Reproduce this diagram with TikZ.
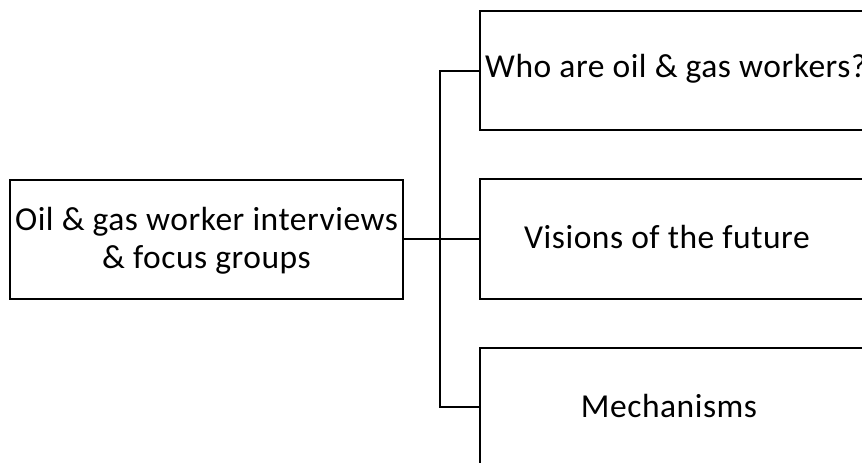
\documentclass[tikz,border=0pt]{standalone}
\usepackage{fontspec}
\setmainfont[LetterSpace=1.6]{Carlito}
\begin{document}
\begin{tikzpicture}[x=1pt,y=-1pt,
  box/.style={draw, line width=2pt, inner sep=0pt, anchor=north west},
  lbl/.style={inner sep=0pt, align=center, font=\fontsize{33.5}{38}\selectfont},
  link/.style={line width=2pt}]
\useasboundingbox (0,0) rectangle (862,463);
\clip (0,0) rectangle (862,463);

% source box
\node[box, minimum width=393pt, minimum height=119pt] (src) at (9,179) {};
\node[lbl] (srct) at ([yshift=-1pt]src.center) {Oil \& gas worker interviews\\\& focus groups};

% theme boxes (running off the right edge)
\node[box, minimum width=420pt, minimum height=119pt] (who) at (479,10) {};
\node[box, minimum width=420pt, minimum height=120pt] (vis) at (479,178) {};
\node[box, minimum width=420pt, minimum height=120pt] (mech) at (479,347) {};

\node[lbl, anchor=base west] (whot) at (485,77) {Who are oil \& gas workers?};
\node[lbl, anchor=base] (vist) at (667,248) {Visions of the future};
\node[lbl, anchor=base] (mecht) at (669,417) {Mechanisms};

% tree connectors
\coordinate (trunk) at (440,239);
\draw[link] (src.east |- trunk) -- (trunk);
\draw[link] (who.west |- 0,71) -| (440,407) -- (mech.west |- 0,407);
\draw[link] (trunk) -- (vis.west |- trunk);
\end{tikzpicture}
\end{document}
